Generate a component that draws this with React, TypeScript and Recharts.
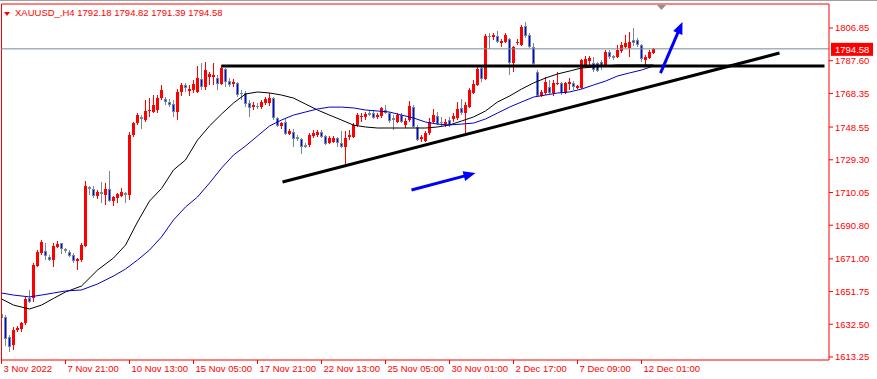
import React from 'react';
import { ComposedChart, Bar, Line, XAxis, YAxis, ReferenceLine } from 'recharts';

const W = 877;
const H = 379;
const RED = '#ff0000';
const BLUE = '#0000ff';
const GREY = '#778899';
const FONT = '"Liberation Sans", Arial, sans-serif';

const opens = [
  1638.5, 1636.8, 1625.0, 1620.3, 1629.1, 1629.7, 1633.2, 1648.0, 1648.0, 1666.8,
  1674.4, 1675.6, 1672.1, 1670.4, 1678.0, 1680.3, 1676.8, 1675.0, 1673.3, 1669.7,
  1670.4, 1678.5, 1713.3, 1712.1, 1708.0, 1710.1, 1708.6, 1712.1, 1705.0, 1706.8,
  1708.0, 1709.8, 1708.6, 1743.9, 1750.9, 1754.5, 1752.7, 1758.0, 1757.4, 1758.6,
  1765.6, 1765.0, 1763.3, 1762.1, 1757.4, 1769.2, 1773.3, 1769.8, 1770.3, 1769.2,
  1776.8, 1772.1, 1778.0, 1778.0, 1777.4, 1773.9, 1782.7, 1775.6, 1773.9, 1774.5,
  1768.6, 1768.6, 1762.7, 1760.3, 1761.0, 1760.3, 1762.7, 1762.7, 1765.6, 1753.9,
  1749.2, 1751.5, 1744.5, 1745.6, 1742.7, 1741.5, 1738.0, 1738.0, 1743.3, 1743.9,
  1745.6, 1743.3, 1739.2, 1739.7, 1742.1, 1739.2, 1736.8, 1742.7, 1742.7, 1749.8,
  1754.5, 1754.5, 1756.8, 1756.8, 1754.5, 1755.0, 1758.6, 1756.8, 1753.9, 1751.5,
  1755.6, 1749.8, 1752.7, 1760.3, 1748.6, 1741.5, 1740.3, 1745.0, 1751.5, 1755.0,
  1751.5, 1750.3, 1752.7, 1753.3, 1753.9, 1759.8, 1756.8, 1760.3, 1768.6, 1773.3,
  1783.3, 1776.8, 1802.1, 1801.5, 1802.1, 1798.0, 1798.6, 1800.4, 1786.2, 1798.0,
  1796.8, 1808.0, 1802.7, 1795.6, 1780.9, 1766.8, 1768.6, 1772.1, 1768.6, 1773.9,
  1774.5, 1768.6, 1773.9, 1774.5, 1771.5, 1771.5, 1785.1, 1787.4, 1786.2, 1786.2,
  1786.8, 1785.1, 1792.7, 1790.4, 1789.8, 1793.3, 1795.6, 1795.1, 1799.8, 1799.8,
  1796.8, 1788.0, 1789.2, 1792.18,
];
const highs = [
  1639.7, 1637.9, 1626.2, 1630.9, 1631.5, 1633.8, 1648.6, 1652.7, 1668.6, 1676.2,
  1682.1, 1680.3, 1673.3, 1680.3, 1681.5, 1680.6, 1677.4, 1676.2, 1674.4, 1671.5,
  1680.3, 1716.8, 1713.9, 1713.9, 1711.3, 1716.3, 1715.6, 1722.7, 1708.0, 1709.8,
  1712.7, 1710.3, 1745.6, 1751.5, 1756.8, 1755.6, 1764.5, 1765.6, 1767.4, 1767.4,
  1773.3, 1766.2, 1765.0, 1764.5, 1770.9, 1774.5, 1774.5, 1773.3, 1776.2, 1784.5,
  1786.2, 1786.8, 1780.9, 1786.2, 1779.2, 1785.1, 1783.3, 1777.4, 1776.8, 1775.0,
  1770.3, 1769.8, 1764.5, 1763.3, 1762.7, 1764.5, 1766.2, 1768.6, 1766.2, 1754.5,
  1751.5, 1753.9, 1747.4, 1747.4, 1743.9, 1742.1, 1739.2, 1745.0, 1746.8, 1746.8,
  1746.8, 1743.9, 1743.3, 1743.3, 1742.7, 1746.2, 1746.2, 1746.8, 1750.9, 1756.8,
  1756.8, 1757.4, 1758.6, 1758.0, 1756.8, 1760.3, 1761.5, 1757.4, 1755.6, 1756.8,
  1756.8, 1753.9, 1763.9, 1761.5, 1749.8, 1743.9, 1746.2, 1753.9, 1759.2, 1757.4,
  1754.5, 1753.3, 1754.5, 1756.8, 1763.3, 1765.0, 1763.3, 1771.5, 1776.2, 1783.9,
  1783.9, 1803.3, 1803.9, 1803.9, 1805.0, 1800.4, 1803.9, 1801.0, 1796.2, 1800.4,
  1808.6, 1810.3, 1803.9, 1798.0, 1782.1, 1770.3, 1778.0, 1776.2, 1776.2, 1780.9,
  1775.0, 1775.0, 1777.4, 1775.6, 1773.3, 1788.6, 1790.4, 1790.4, 1789.8, 1786.8,
  1788.0, 1793.9, 1793.9, 1790.9, 1796.8, 1798.6, 1802.7, 1804.5, 1806.8, 1801.0,
  1797.4, 1790.9, 1793.9, 1794.82,
];
const lows = [
  1635.0, 1619.7, 1616.2, 1617.4, 1627.9, 1627.9, 1632.1, 1645.0, 1645.6, 1666.2,
  1673.3, 1670.4, 1669.7, 1666.2, 1677.4, 1673.9, 1674.4, 1672.1, 1668.6, 1664.4,
  1669.2, 1678.0, 1708.6, 1706.8, 1706.2, 1703.8, 1702.7, 1704.4, 1702.1, 1703.8,
  1707.4, 1703.8, 1705.6, 1742.7, 1749.8, 1747.4, 1751.5, 1754.5, 1756.8, 1756.8,
  1764.5, 1761.5, 1760.3, 1754.5, 1752.7, 1766.8, 1769.2, 1766.8, 1768.6, 1768.6,
  1770.3, 1770.3, 1773.3, 1773.3, 1770.3, 1773.3, 1772.1, 1772.1, 1772.1, 1766.2,
  1764.5, 1760.3, 1754.5, 1758.6, 1759.2, 1759.2, 1761.5, 1760.9, 1752.7, 1748.6,
  1747.4, 1743.9, 1743.9, 1736.8, 1740.3, 1732.7, 1736.2, 1736.8, 1742.1, 1742.7,
  1742.1, 1738.0, 1738.6, 1739.2, 1736.8, 1736.2, 1726.2, 1740.9, 1742.1, 1748.6,
  1751.5, 1752.7, 1755.0, 1753.3, 1753.3, 1753.9, 1756.2, 1750.9, 1746.8, 1750.9,
  1750.9, 1748.0, 1751.5, 1748.0, 1740.3, 1739.7, 1739.7, 1743.9, 1750.9, 1749.8,
  1748.6, 1748.6, 1748.6, 1751.5, 1752.7, 1755.6, 1744.5, 1759.8, 1768.0, 1772.7,
  1775.0, 1776.2, 1794.5, 1799.8, 1798.0, 1795.6, 1798.0, 1779.2, 1780.9, 1796.8,
  1796.2, 1800.9, 1795.1, 1785.1, 1766.2, 1766.2, 1767.4, 1768.0, 1766.8, 1773.3,
  1767.4, 1768.0, 1770.3, 1770.3, 1770.9, 1770.9, 1784.5, 1785.1, 1780.9, 1780.9,
  1782.1, 1784.5, 1788.6, 1788.0, 1789.2, 1792.1, 1795.1, 1789.8, 1796.2, 1795.6,
  1786.8, 1785.1, 1788.6, 1791.39,
];
const closes = [
  1636.2, 1623.8, 1619.1, 1629.1, 1630.3, 1633.2, 1647.4, 1645.6, 1667.4, 1675.0,
  1680.9, 1672.7, 1670.4, 1678.5, 1679.7, 1676.8, 1675.6, 1672.7, 1669.7, 1670.9,
  1679.1, 1713.9, 1712.1, 1708.0, 1710.1, 1709.2, 1712.1, 1705.0, 1707.4, 1709.2,
  1710.1, 1708.6, 1743.9, 1750.9, 1755.6, 1753.3, 1758.0, 1758.6, 1761.5, 1765.6,
  1770.3, 1763.3, 1761.5, 1757.4, 1769.2, 1773.3, 1771.5, 1771.0, 1773.9, 1777.4,
  1772.1, 1782.1, 1779.7, 1779.2, 1773.9, 1783.3, 1775.0, 1773.3, 1775.0, 1767.4,
  1768.0, 1762.1, 1759.8, 1761.5, 1760.3, 1763.3, 1765.0, 1765.6, 1753.9, 1749.2,
  1750.9, 1744.5, 1746.2, 1741.5, 1741.5, 1736.8, 1736.8, 1743.9, 1745.0, 1745.6,
  1742.7, 1738.6, 1742.1, 1742.1, 1739.2, 1736.8, 1742.1, 1743.9, 1749.8, 1755.6,
  1755.0, 1756.2, 1755.6, 1753.9, 1755.6, 1759.8, 1756.8, 1752.1, 1752.7, 1755.6,
  1751.5, 1752.1, 1760.9, 1748.6, 1740.9, 1742.7, 1745.0, 1751.5, 1755.6, 1750.3,
  1750.9, 1751.5, 1749.8, 1755.0, 1759.2, 1756.8, 1761.5, 1770.3, 1773.9, 1782.7,
  1776.8, 1802.1, 1801.5, 1802.7, 1798.6, 1799.2, 1802.7, 1786.2, 1795.6, 1798.6,
  1807.4, 1802.1, 1795.6, 1785.6, 1766.8, 1769.2, 1775.0, 1768.6, 1774.5, 1774.5,
  1768.6, 1774.5, 1775.0, 1772.1, 1772.7, 1788.0, 1788.6, 1789.2, 1782.1, 1781.5,
  1783.9, 1792.7, 1789.8, 1789.2, 1793.9, 1796.8, 1798.0, 1798.6, 1798.0, 1796.8,
  1788.6, 1789.8, 1792.7, 1794.58,
];

const maIndex = [
  0, 3, 7, 10, 13, 16, 20, 24, 28, 31, 34, 37, 40, 43, 46, 49, 52, 55, 58, 61,
  64, 67, 70, 73, 76, 79, 82, 85, 88, 91, 94, 97, 100, 103, 106, 109, 112, 115, 118, 121,
  124, 127, 130, 133, 136, 139, 142, 145, 148, 151, 154, 157, 160, 163,
];
const maBlack = [
  1647.4, 1643.8, 1641.5, 1643.8, 1647.7, 1651.5, 1655.0, 1664.4, 1671.5, 1679.1,
  1692.7, 1705.0, 1712.4, 1723.3, 1729.2, 1740.9, 1749.2, 1756.2, 1762.7, 1768.0,
  1769.2, 1768.6, 1767.4, 1765.6, 1762.1, 1758.6, 1755.6, 1752.7, 1749.7, 1748.6,
  1748.0, 1748.0, 1748.0, 1748.0, 1748.0, 1748.6, 1749.8, 1752.1, 1754.5, 1758.0,
  1763.3, 1766.8, 1770.9, 1774.5, 1777.4, 1779.8, 1781.5, 1783.3, 1783.9, 1784.5,
  1785.1, 1785.1, 1785.1, 1785.1,
];
const maBlue = [
  1650.9, 1649.7, 1648.6, 1649.7, 1650.9, 1652.1, 1652.7, 1656.2, 1660.9, 1665.0,
  1670.3, 1676.2, 1683.9, 1693.9, 1701.5, 1707.4, 1715.6, 1724.4, 1732.1, 1737.4,
  1743.3, 1749.2, 1752.7, 1755.6, 1757.4, 1759.2, 1760.3, 1760.3, 1759.8, 1758.6,
  1758.0, 1757.4, 1755.6, 1753.9, 1751.5, 1750.3, 1749.8, 1750.3, 1750.9, 1753.3,
  1756.8, 1760.3, 1763.3, 1766.2, 1767.4, 1768.6, 1769.2, 1770.9, 1773.3, 1775.6,
  1778.6, 1780.4, 1782.1, 1784.5,
];

const xTickIndex = [0, 16, 32, 48, 64, 80, 96, 112, 128, 144, 160];
const xTickLabels = [
  '3 Nov 2022', '7 Nov 21:00', '10 Nov 13:00', '15 Nov 05:00', '17 Nov 21:00',
  '22 Nov 13:00', '25 Nov 05:00', '30 Nov 01:00', '2 Dec 17:00', '7 Dec 09:00', '12 Dec 01:00',
];
const yTicks = [1613.25, 1632.5, 1651.75, 1671.0, 1690.8, 1710.05, 1729.3, 1748.55, 1768.35, 1787.6, 1806.85];
const yDomain: [number, number] = [1611.48, 1820.97];

const lastPrice = 1794.58;
const resistance = { from: 55, to: 205.75, price: 1784.5 };
const supportLine = { x1: 70.25, p1: 1716.2, x2: 194.5, p2: 1792.1 };
const arrowFlat = { x1: 102.5, p1: 1711.5, x2: 118.5, p2: 1721.5 };
const arrowUp = { x1: 164.75, p1: 1780.3, x2: 170.25, p2: 1810.4 };

const data = opens.map((o, i) => {
  const k = maIndex.indexOf(i);
  return {
    i,
    o,
    h: highs[i],
    l: lows[i],
    c: closes[i],
    range: [lows[i], highs[i]],
    mb: k >= 0 ? maBlack[k] : null,
    mu: k >= 0 ? maBlue[k] : null,
  };
});

const Candle = (props: any) => {
  const { x, y, width, height, payload } = props;
  if (!payload || x == null) return null;
  const { o, h, l, c } = payload;
  const top = Math.min(y, y + height);
  const ht = Math.abs(height);
  const cx = Math.floor(x + width / 2);
  const span = h - l;
  const py = (v: number) => (span > 0 ? top + ((h - v) / span) * ht : top);
  const bTop = Math.round(Math.min(py(o), py(c)));
  const bBot = Math.round(Math.max(py(o), py(c)));
  const bh = Math.max(1, bBot - bTop);
  const wTop = Math.round(top);
  const wH = Math.max(1, Math.round(top + ht) - wTop);
  if (c >= o) {
    return (
      <g shapeRendering="crispEdges">
        <rect x={cx} y={wTop} width={1} height={wH} fill={RED} />
        <rect x={cx - 1} y={bTop} width={3} height={bh} fill={RED} />
      </g>
    );
  }
  return (
    <g shapeRendering="crispEdges">
      <rect x={cx} y={wTop} width={1} height={wH} fill={GREY} />
      <rect x={cx - 1} y={bTop} width={3} height={bh} fill={GREY} />
      {bh > 2 && <rect x={cx} y={bTop + 1} width={1} height={bh - 2} fill={BLUE} />}
    </g>
  );
};

const arrowShape = (color: string, sw: number) => (props: any) => {
  const { x1, y1, x2, y2 } = props;
  if ([x1, y1, x2, y2].some((v) => v == null || isNaN(v))) return null;
  const dx = x2 - x1;
  const dy = y2 - y1;
  const len = Math.sqrt(dx * dx + dy * dy) || 1;
  const ux = dx / len;
  const uy = dy / len;
  const L = 12;
  const Wd = 5;
  const bx = x2 - ux * L;
  const by = y2 - uy * L;
  const nx = -uy;
  const ny = ux;
  const pts = `${x2},${y2} ${bx + nx * Wd},${by + ny * Wd} ${bx - nx * Wd},${by - ny * Wd}`;
  return (
    <g>
      <line x1={x1} y1={y1} x2={bx + ux * 2} y2={by + uy * 2} stroke={color} strokeWidth={sw} />
      <polygon points={pts} fill={color} />
    </g>
  );
};

const PriceTag = (props: any) => {
  const vb = props.viewBox || {};
  const x = (vb.x ?? 0) + (vb.width ?? 0) + 2;
  const y = vb.y ?? 0;
  return (
    <g>
      <rect x={x} y={y - 6} width={42} height={13} fill={RED} />
      <text x={x + 4} y={y + 4} fill="#ffffff" fontSize={9.5} fontFamily={FONT}>
        {lastPrice.toFixed(2)}
      </text>
    </g>
  );
};

const XTick = (props: any) => {
  const { x, y, payload } = props;
  const k = xTickIndex.indexOf(payload.value);
  return (
    <text x={x + 2} y={y + 6} fill={RED} fontSize={9.5} fontFamily={FONT} textAnchor="start">
      {k >= 0 ? xTickLabels[k] : ''}
    </text>
  );
};

const YTick = (props: any) => {
  const { x, y, payload } = props;
  return (
    <text x={x} y={y + 3.5} fill={RED} fontSize={9.5} fontFamily={FONT} textAnchor="start">
      {Number(payload.value).toFixed(2)}
    </text>
  );
};

export default function App() {
  return (
    <div style={{ position: 'absolute', left: 0, top: 0, width: W, height: H, background: '#ffffff' }}>
      <ComposedChart
        width={W}
        height={H}
        data={data}
        margin={{ top: 4, right: 0, bottom: 0, left: 1.5 }}
      >
        <XAxis
          dataKey="i"
          type="number"
          domain={[0, 206.875]}
          ticks={xTickIndex}
          interval={0}
          height={19}
          axisLine={{ stroke: RED }}
          tickLine={{ stroke: RED }}
          tickSize={4}
          tick={<XTick />}
          allowDataOverflow
        />
        <YAxis
          orientation="right"
          type="number"
          domain={yDomain}
          ticks={yTicks}
          interval={0}
          width={48}
          axisLine={{ stroke: RED }}
          tickLine={{ stroke: RED }}
          tickSize={4}
          tick={<YTick />}
          allowDataOverflow
        />
        <ReferenceLine y={yDomain[1]} stroke={RED} />
        <ReferenceLine x={0} stroke={RED} />
        <ReferenceLine y={lastPrice} stroke={GREY} label={<PriceTag />} />
        <Bar dataKey="range" barSize={3} shape={Candle} isAnimationActive={false} />
        <Line dataKey="mb" type="linear" stroke="#000000" strokeWidth={1} dot={false} connectNulls isAnimationActive={false} />
        <Line dataKey="mu" type="linear" stroke="#0000cc" strokeWidth={1} dot={false} connectNulls isAnimationActive={false} />
        <ReferenceLine
          segment={[{ x: resistance.from, y: resistance.price }, { x: resistance.to, y: resistance.price }]}
          stroke="#000000"
          strokeWidth={3}
        />
        <ReferenceLine
          segment={[{ x: supportLine.x1, y: supportLine.p1 }, { x: supportLine.x2, y: supportLine.p2 }]}
          stroke="#000000"
          strokeWidth={3}
        />
        <ReferenceLine
          segment={[{ x: arrowFlat.x1, y: arrowFlat.p1 }, { x: arrowFlat.x2, y: arrowFlat.p2 }]}
          stroke={BLUE}
          strokeWidth={3}
          shape={arrowShape(BLUE, 3)}
        />
        <ReferenceLine
          segment={[{ x: arrowUp.x1, y: arrowUp.p1 }, { x: arrowUp.x2, y: arrowUp.p2 }]}
          stroke={BLUE}
          strokeWidth={3}
          shape={arrowShape(BLUE, 3)}
        />
      </ComposedChart>
      <svg
        width={W}
        height={H}
        style={{ position: 'absolute', left: 0, top: 0, pointerEvents: 'none' }}
      >
        <line x1={0} y1={0.5} x2={W} y2={0.5} stroke="#a0a0a0" />
        <polygon points="4,12 10,12 7,16" fill={RED} />
        <text x={15} y={16} fill={RED} fontSize={9.5} fontFamily={FONT}>
          XAUUSD_,H4  1792.18 1794.82 1791.39 1794.58
        </text>
        <polygon points="657,5 666,5 661.5,10" fill="#909090" />
      </svg>
    </div>
  );
}
